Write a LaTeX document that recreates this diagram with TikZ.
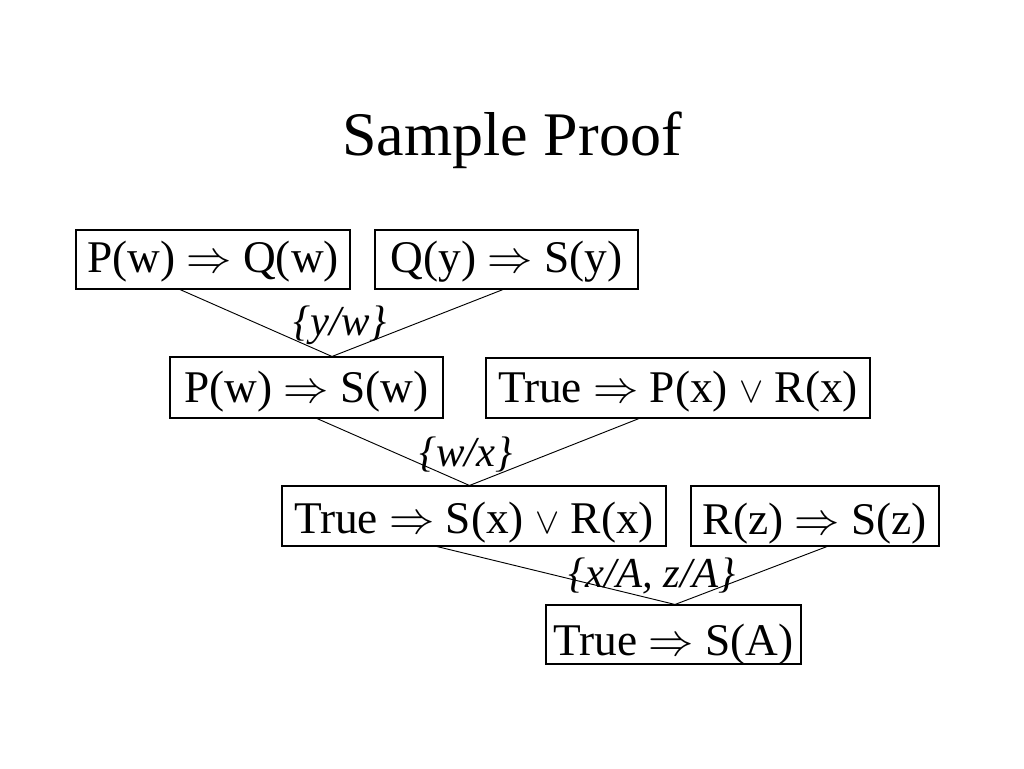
\documentclass[tikz,border=0pt]{standalone}
\usepackage{fix-cm}
\usepackage{fontspec}
\setmainfont{Liberation Serif}
\usetikzlibrary{calc}
\newcommand{\orr}{\scalebox{0.8}{$\vee$}}
\tikzset{
  box/.style={draw=black, line width=0.8pt, inner sep=0pt, align=center,
    font=\fontsize{34}{40}\selectfont},
  bx/.style n args={3}{box, minimum width={#1*0.75pt}, text height={#2*0.75pt}, text depth={#3*0.75pt}},
  lbl/.style={inner sep=0pt, font=\fontsize{32}{38}\selectfont\itshape},
  link/.style={draw=black, line width=0.7pt},
}
\begin{document}
\begin{tikzpicture}[x=0.75pt, y=-0.75pt]
\useasboundingbox (0,0) rectangle (1024,768);
\node[font=\fontsize{46.5}{54}\selectfont, anchor=base] (title) at (512,155) {Sample Proof};

\node[bx={274}{42}{17}] (b1) at (213,259.5) {P(w) $\Rightarrow$ Q(w)};
\node[bx={263}{42}{17}] (b2) at (506.5,259.5) {Q(y) $\Rightarrow$ S(y)};
\node[bx={273}{45}{16}] (b3) at (306.5,387.5) {P(w) $\Rightarrow$ S(w)};
\node[bx={384}{44}{16}] (b4) at (678,388) {True $\Rightarrow$ P(x) \orr{} R(x)};
\node[bx={384}{47}{13}] (b5) at (474,516) {True $\Rightarrow$ S(x) \orr{} R(x)};
\node[bx={248}{48}{12}] (b6) at (815,516) {R(z) $\Rightarrow$ S(z)};
\node[bx={255}{50}{9}] (b7) at (673.5,634.5) {True $\Rightarrow$ S(A)};

\draw[link] ($(b1.south)+(-33,0)$) -- ($(b3.north)+(25.5,0)$);
\draw[link] ($(b2.south)+(-3.5,0)$) -- ($(b3.north)+(25.5,0)$);
\draw[link] ($(b3.south)+(10.5,0)$) -- ($(b5.north)+(-4.5,0)$);
\draw[link] ($(b4.south)+(-39,0)$) -- ($(b5.north)+(-4.5,0)$);
\draw[link] ($(b5.south)+(-37,0)$) -- ($(b7.north)+(1.5,0)$);
\draw[link] ($(b6.south)+(12,0)$) -- ($(b7.north)+(1.5,0)$);

\node[lbl] (l1) at (340,325) {\{y/w\}};
\node[lbl] (l2) at (466,455) {\{w/x\}};
\node[lbl] (l3) at (652,576) {\{x/A, z/A\}};
\end{tikzpicture}
\end{document}
